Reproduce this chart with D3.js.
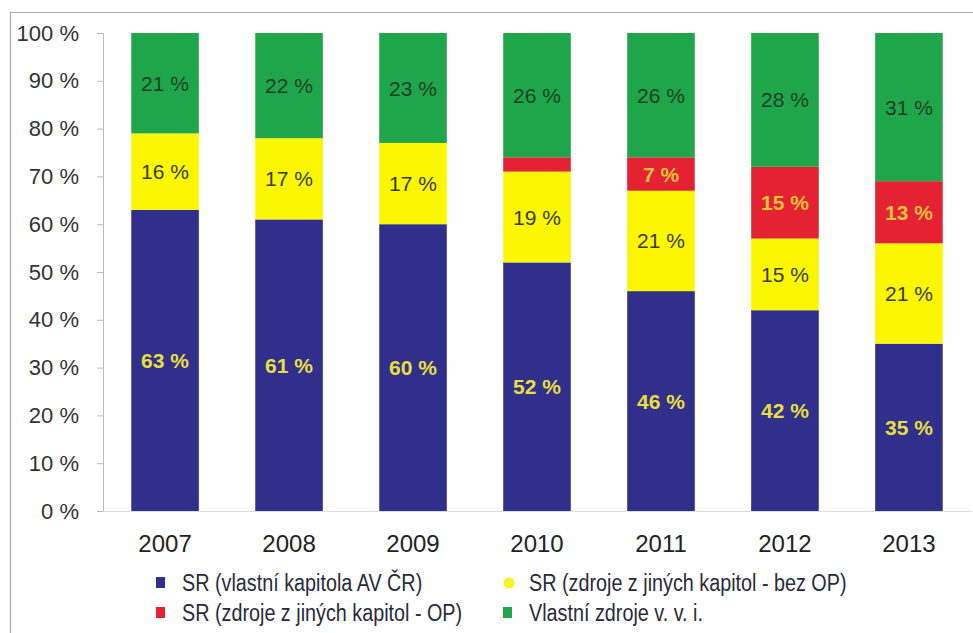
<!DOCTYPE html>
<html><head><meta charset="utf-8">
<script src="https://cdn.jsdelivr.net/npm/d3@7"></script>
<style>
html,body{margin:0;padding:0;background:#fff;}
svg text{font-family:"Liberation Sans Narrow","Arial Narrow","Liberation Sans",sans-serif;}
</style></head><body>
<svg id="c" width="973" height="633"></svg>
<script>
const years = ["2007","2008","2009","2010","2011","2012","2013"];
const seriesNames = ["SR (vlastní kapitola AV ČR)","SR (zdroje z jiných kapitol - bez OP)","SR (zdroje z jiných kapitol - OP)","Vlastní zdroje v. v. i."];
const srVlastni = [63,61,60,52,46,42,35];
const srBezOP   = [16,17,17,19,21,15,21];
const srOP      = [0,0,0,3,7,15,13];
const vlastniZdroje = [21,22,23,26,26,28,31];
const segLabels = [
  ["63 %","61 %","60 %","52 %","46 %","42 %","35 %"],
  ["16 %","17 %","17 %","19 %","21 %","15 %","21 %"],
  ["","","","","7 %","15 %","13 %"],
  ["21 %","22 %","23 %","26 %","26 %","28 %","31 %"]
];
const yTicks = [0,10,20,30,40,50,60,70,80,90,100];
const colors = ["#302f8c","#fbf700","#e42232","#1fa64a"];
const labelColors = ["#e6df3e","#3a3a22","#f2c13a","#1f3f24"];
const labelWeights = ["bold","normal","bold","normal"];

const svg = d3.select("#c");
// frame
svg.append("path").attr("d","M10.5,633 V12.5 H973").attr("fill","none").attr("stroke","#aaa").attr("stroke-width",1.2);

const x = d3.scaleBand().domain(years).range([103,971]).paddingInner(0.455).paddingOuter(0.228);
const y = d3.scaleLinear().domain([0,100]).range([511,33]);

const rows = years.map((yr,i)=>({year:yr, v:[srVlastni[i],srBezOP[i],srOP[i],vlastniZdroje[i]]}));
const stack = d3.stack().keys([0,1,2,3]).value((d,k)=>d.v[k]);
const stacked = stack(rows);

const g = svg.append("g");
stacked.forEach((layer,k)=>{
  g.selectAll(null).data(layer).enter().append("rect")
    .attr("x",d=>x(d.data.year))
    .attr("width",x.bandwidth())
    .attr("y",d=>y(d[1]))
    .attr("height",d=>y(d[0])-y(d[1]))
    .attr("fill",colors[k]);
});
stacked.forEach((layer,k)=>{
  g.selectAll(null).data(layer).enter().append("text")
    .attr("x",d=>x(d.data.year)+x.bandwidth()/2)
    .attr("y",d=>(y(d[0])+y(d[1]))/2)
    .attr("dy","0.36em")
    .attr("text-anchor","middle")
    .attr("font-size",21)
    .attr("font-weight",labelWeights[k])
    .attr("fill",labelColors[k])
    .text((d,i)=>segLabels[k][i]);
});

// y axis
const yAxis = d3.axisLeft(y).tickValues(yTicks).tickFormat(d=>d+" %").tickSize(6).tickPadding(18);
const ya = svg.append("g").attr("transform","translate(103,0)").call(yAxis);
ya.select(".domain").attr("stroke","#bbb");
ya.selectAll(".tick line").attr("stroke","#bbb");
ya.selectAll(".tick text").attr("font-size",22).attr("fill","#333").style("font-family","'Liberation Sans Narrow','Arial Narrow','Liberation Sans',sans-serif");

// x axis
const xAxis = d3.axisBottom(x).tickSize(0).tickPadding(24);
const xa = svg.append("g").attr("transform","translate(0,511)").call(xAxis);
xa.select(".domain").attr("stroke","#ddd");
xa.selectAll(".tick text").attr("font-size",24).attr("fill","#222").style("font-family","'Liberation Sans Narrow','Arial Narrow','Liberation Sans',sans-serif");

// legend
const legPos = [[182,583],[529,583],[182,613],[529,613]];
[0,1,2,3].forEach((k,i)=>{
  const [lx,ly]=legPos[i];
  const lg = svg.append("g").attr("transform",`translate(${lx},${ly})`);
  if(k===1){
    lg.append("circle").attr("cx",-20).attr("cy",0).attr("r",5.5).attr("fill","#f8f420");
  } else {
    lg.append("rect").attr("x",-26).attr("y",-6).attr("width",9).attr("height",11).attr("fill",colors[k]);
  }
  lg.append("text").attr("x",0).attr("y",0).attr("dy","0.36em").attr("font-size",23)
    .attr("transform","scale(0.86,1)").attr("fill","#2a2a3a").text(seriesNames[k]);
});
</script>
</body></html>
